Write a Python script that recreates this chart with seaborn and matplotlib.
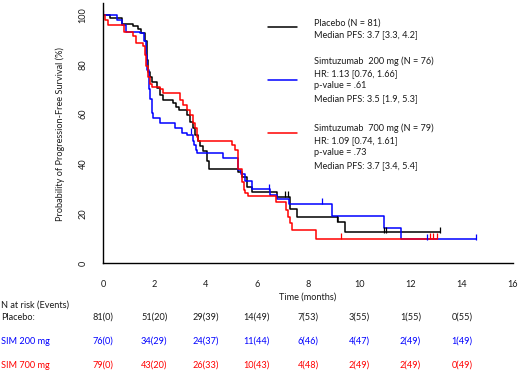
import matplotlib
matplotlib.use("Agg")
import matplotlib.pyplot as plt
from matplotlib.lines import Line2D
import matplotlib.transforms as mtransforms
import seaborn as sns
import pandas as pd

# ---------------- data ----------------
placebo_time = [0, 0.27, 0.73, 1.18, 1.38, 1.5, 1.64, 1.7, 1.76, 1.82, 1.9, 2.1, 2.22, 2.36,
                2.75, 2.85, 2.95, 3.27, 3.4, 3.5, 3.59, 3.72, 3.79, 3.92, 4.05, 4.15, 5.25,
                5.42, 5.62, 5.8, 6.78, 7.3, 7.57, 9.17, 9.45, 13.14]
placebo_surv = [100, 98.7, 96.4, 95.4, 94.4, 92.8, 89.5, 82, 77.2, 75, 73, 70.4, 67.7, 65.7,
                64.4, 63, 61.7, 59.7, 57, 54.4, 51.7, 49, 47, 45, 41, 37.8, 36.5,
                34.8, 30.8, 28.6, 26.7, 21.7, 18.7, 16.7, 12.4, 12.4]

sim200_time = [0, 0.53, 0.75, 0.9, 1.45, 1.6, 1.66, 1.72, 1.78, 1.84, 1.9, 1.97, 2.22, 2.8,
               3.07, 3.27, 3.5, 3.56, 3.62, 3.68, 4.7, 5.28, 5.4, 5.55, 5.8, 6.52, 6.78,
               7.24, 8.95, 10.95, 11.63, 14.57]
sim200_surv = [100, 98, 96, 93.3, 92.7, 89.5, 84, 78, 70, 66, 60.4, 58.3, 56.4, 54.4,
               52.4, 51.5, 49, 47.6, 45.6, 44.2, 42.2, 37.5, 36, 33, 29.7, 27.4, 26,
               23.8, 19, 14, 9.6, 9.6]

sim700_time = [0, 0.08, 0.2, 0.8, 1.18, 1.3, 1.57, 1.64, 1.68, 1.74, 1.84, 1.9, 2.22, 2.36,
               3.0, 3.14, 3.27, 3.4, 3.53, 3.6, 3.66, 3.72, 5.02, 5.15, 5.28, 5.42, 5.5,
               5.55, 5.67, 6.75, 7.15, 7.22, 7.3, 7.38, 8.3, 13.03]
sim700_surv = [100, 98, 96, 93.3, 91.4, 88.7, 87.4, 84, 79.4, 75, 72, 71, 70, 68.4,
               65.7, 63.7, 61.7, 59.7, 56.4, 54.4, 51, 49, 47.6, 45.6, 37.8, 32.5,
               29.4, 28.2, 27.2, 24.7, 21.5, 18.7, 16.2, 13.3, 9.7, 9.7]

placebo_cens_t = [7.1, 7.2, 9.15, 10.95, 11.05, 13.14]
placebo_cens_s = [26.7, 26.7, 16.7, 12.4, 12.4, 12.4]
sim200_cens_t = [0, 3.45, 6.47, 8.55, 12.64, 14.57]
sim200_cens_s = [100, 52.4, 29.7, 23.8, 9.6, 9.6]
sim700_cens_t = [9.3, 12.75, 12.88, 13.03]
sim700_cens_s = [9.7, 9.7, 9.7, 9.7]

arms = ["Placebo", "SIM 200 mg", "SIM 700 mg"]
arm_colors = ["#000000", "#0000FF", "#FF0000"]

legend_texts = [
    ["Placebo (N = 81)", "Median PFS: 3.7 [3.3, 4.2]"],
    ["Simtuzumab  200 mg (N = 76)", "HR: 1.13 [0.76, 1.66]", "p-value = .61",
     "Median PFS: 3.5 [1.9, 5.3]"],
    ["Simtuzumab  700 mg (N = 79)", "HR: 1.09 [0.74, 1.61]", "p-value = .73",
     "Median PFS: 3.7 [3.4, 5.4]"],
]

risk_times = [0, 2, 4, 6, 8, 10, 12, 14]
placebo_risk = ["81(0)", "51(20)", "29(39)", "14(49)", "7(53)", "3(55)", "1(55)", "0(55)"]
sim200_risk = ["76(0)", "34(29)", "24(37)", "11(44)", "6(46)", "4(47)", "2(49)", "1(49)"]
sim700_risk = ["79(0)", "43(20)", "26(33)", "10(43)", "4(48)", "2(49)", "2(49)", "0(49)"]
risk_labels = ["Placebo:", "SIM 200 mg", "SIM 700 mg"]

x_ticks = [0, 2, 4, 6, 8, 10, 12, 14, 16]
y_ticks = [0, 20, 40, 60, 80, 100]

# ---------------- build frames ----------------
curves = pd.concat([
    pd.DataFrame({"time": placebo_time, "surv": placebo_surv, "arm": arms[0]}),
    pd.DataFrame({"time": sim200_time, "surv": sim200_surv, "arm": arms[1]}),
    pd.DataFrame({"time": sim700_time, "surv": sim700_surv, "arm": arms[2]}),
], ignore_index=True)
cens = pd.concat([
    pd.DataFrame({"time": placebo_cens_t, "surv": placebo_cens_s, "arm": arms[0]}),
    pd.DataFrame({"time": sim200_cens_t, "surv": sim200_cens_s, "arm": arms[1]}),
    pd.DataFrame({"time": sim700_cens_t, "surv": sim700_cens_s, "arm": arms[2]}),
], ignore_index=True)

# ---------------- figure ----------------
sns.set_style("white")
FONT = ["Lato", "DejaVu Sans"]
plt.rcParams["font.family"] = FONT
FS = 6.6
TXT = "#1a1a1a"

W, H = 520, 378
def fx(x):
    return x / W
def fy(y):
    return 1 - y / H

fig = plt.figure(figsize=(W / 100, H / 100), dpi=100)
ax = fig.add_axes([fx(103), fy(263), 410 / W, (263 - 2.6) / H])

palette = dict(zip(arms, arm_colors))
sns.lineplot(data=curves, x="time", y="surv", hue="arm", palette=palette,
             drawstyle="steps-post", estimator=None, sort=False, legend=False,
             linewidth=1.1, ax=ax)
for arm, col in zip(arms, arm_colors):
    sub = cens[cens["arm"] == arm]
    ax.plot(sub["time"], sub["surv"] + 1.0, linestyle="none", marker="|",
            markersize=5, markeredgewidth=0.9, color=col)

ax.set_xlim(0, 16)
ax.set_ylim(0, 105)
ax.set_xticks(x_ticks)
ax.set_yticks(y_ticks)
ax.set_xticklabels([str(v) for v in x_ticks])
ax.set_yticklabels([str(v) for v in y_ticks])
for s in ["top", "right"]:
    ax.spines[s].set_visible(False)
for s in ["left", "bottom"]:
    ax.spines[s].set_color("#000000")
    ax.spines[s].set_linewidth(1.0)
ax.tick_params(axis="both", direction="out", length=5, width=1.0, color="#000000",
               labelsize=FS, labelcolor=TXT)
ax.tick_params(axis="x", pad=7)
ax.tick_params(axis="y", pad=6, labelrotation=90)
for lab in ax.get_yticklabels():
    lab.set_va("center")
ax.set_xlabel("")
ax.set_ylabel("")

fig.text(fx(60), fy(134), "Probability of Progression-Free Survival (%)", rotation=90,
         ha="center", va="center", fontsize=FS, color=TXT)
blend = mtransforms.blended_transform_factory(ax.transData, fig.transFigure)
ax.text(8, fy(297), "Time (months)", transform=blend,
        ha="center", va="center", fontsize=FS, color=TXT)

# legend (drawn manually)
leg_line_y = [26.7, 80, 132.7]
leg_text_y = [[23.3, 35], [61.7, 73.8, 86, 98.8], [128.3, 140.5, 152.8, 165.5]]
for col, ly, tys, txts in zip(arm_colors, leg_line_y, leg_text_y, legend_texts):
    fig.add_artist(Line2D([fx(268), fx(297)], [fy(ly), fy(ly)], color=col, linewidth=1.1,
                          transform=fig.transFigure))
    for ty, t in zip(tys, txts):
        fig.text(fx(314), fy(ty), t, ha="left", va="center", fontsize=FS, color=TXT)

# risk table
fig.text(fx(1), fy(305), "N at risk (Events)", ha="left", va="center", fontsize=FS, color=TXT)
row_y = [317, 341, 365]
for lab, col, ry, vals in zip(risk_labels, arm_colors, row_y,
                              [placebo_risk, sim200_risk, sim700_risk]):
    c = col if col != "#000000" else TXT
    fig.text(fx(1), fy(ry), lab, ha="left", va="center", fontsize=FS, color=c)
    for t, v in zip(risk_times, vals):
        ax.text(t, fy(ry), v, transform=blend, ha="center", va="center", fontsize=FS,
                color=c, clip_on=False)

fig.savefig("out.png", dpi=100)
